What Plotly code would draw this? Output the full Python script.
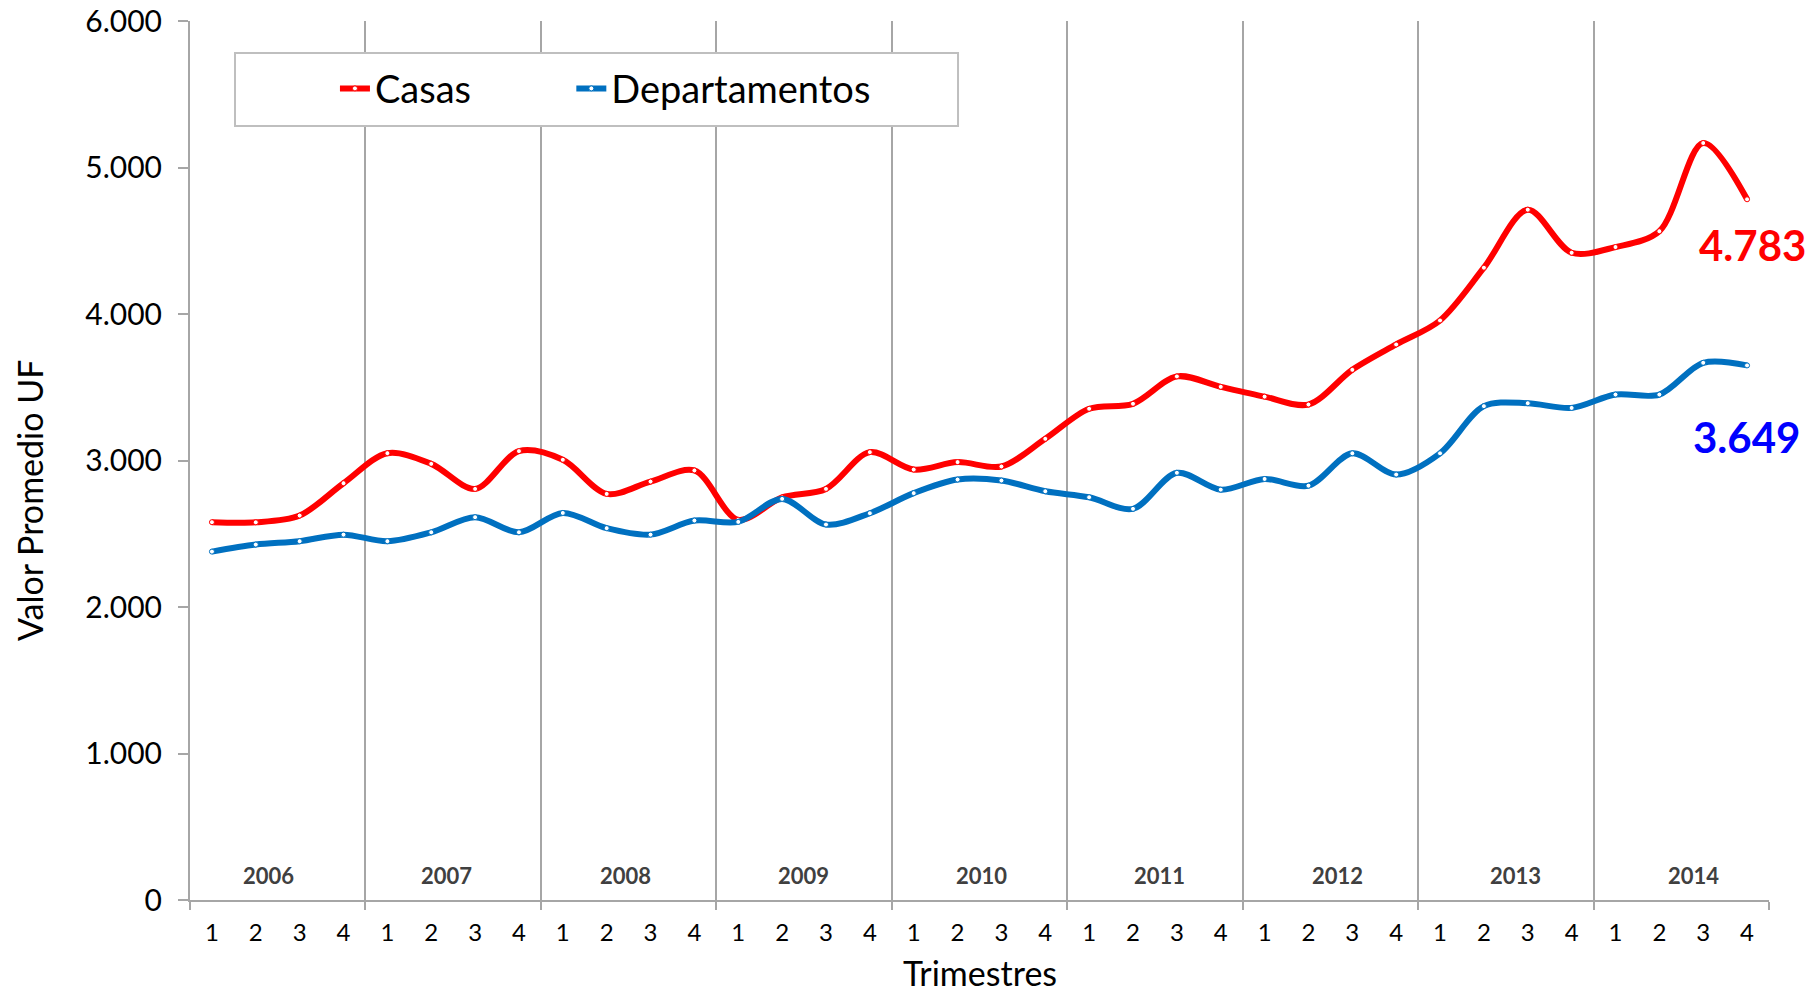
import plotly.graph_objects as go

years = ["2006", "2007", "2008", "2009", "2010", "2011", "2012", "2013", "2014"]
quarters = ["1", "2", "3", "4"]

casas = [2579, 2578, 2624, 2845,
         3050, 2977, 2806, 3064,
         3005, 2772, 2856, 2932,
         2595, 2748, 2806, 3057,
         2938, 2989, 2959, 3148,
         3353, 3387, 3574, 3503,
         3436, 3382, 3619, 3792,
         3956, 4316, 4712, 4418,
         4457, 4565, 5167, 4783]

departamentos = [2378, 2426, 2449, 2494,
                 2449, 2510, 2613, 2510,
                 2642, 2538, 2494, 2590,
                 2581, 2738, 2563, 2640,
                 2777, 2870, 2863, 2790,
                 2749, 2670, 2916, 2801,
                 2874, 2828, 3049, 2904,
                 3049, 3371, 3391, 3359,
                 3450, 3450, 3667, 3649]

y_ticks = [0, 1000, 2000, 3000, 4000, 5000, 6000]

FONT = "Lato"
GRAY = "#A6A6A6"
RED = "#FF0000"
BLUE = "#0070C0"

n = len(years) * len(quarters)
xs = list(range(n))
tick_text = [q for _ in years for q in quarters]
year_bounds = [i * len(quarters) - 0.5 for i in range(len(years) + 1)]

fig = go.Figure()
for name, vals, col, lg in [("Casas", casas, RED, "legend"),
                            ("Departamentos", departamentos, BLUE, "legend2")]:
    fig.add_trace(go.Scatter(
        x=xs, y=vals, name=name, mode="lines+markers", legend=lg,
        line=dict(color=col, width=6, shape="spline", smoothing=0.9),
        marker=dict(symbol="circle", size=5, color="white", line=dict(color=col, width=1)),
    ))

annotations = []
for i, yr in enumerate(years):
    annotations.append(dict(
        x=i * len(quarters) + 1.5, y=0, xref="x", yref="paper",
        text="<b>%s</b>" % yr, showarrow=False, yanchor="middle", yshift=25,
        xshift=-9 + 2.7 * i,
        font=dict(family=FONT, size=22, color="#404040"),
    ))

annotations.append(dict(
    x=xs[-1], y=casas[-1], xref="x", yref="y",
    text="<b>%s</b>" % f"{casas[-1]:,}".replace(",", "."),
    showarrow=False, xshift=5, yshift=-46,
    font=dict(family=FONT, size=42, color=RED),
))
annotations.append(dict(
    x=xs[-1], y=departamentos[-1], xref="x", yref="y",
    text="<b>%s</b>" % f"{departamentos[-1]:,}".replace(",", "."),
    showarrow=False, xshift=-1, yshift=-72,
    font=dict(family=FONT, size=42, color="#0000FF"),
))
# axis titles
annotations.append(dict(
    x=-0.102, y=0.455, xref="paper", yref="paper", xanchor="center", yanchor="middle",
    text="Valor Promedio UF", textangle=-90, showarrow=False,
    font=dict(family=FONT, size=34, color="black"),
))
annotations.append(dict(
    x=0.5, y=0, xref="paper", yref="paper", xanchor="center", yanchor="bottom",
    yshift=-94, borderpad=0, text="Trimestres", showarrow=False,
    font=dict(family=FONT, size=34, color="black"),
))

legend_common = dict(
    orientation="h", y=0.923, xanchor="left", yanchor="middle",
    bgcolor="rgba(0,0,0,0)", borderwidth=0,
    font=dict(family=FONT, size=38, color="black"),
)

fig.update_layout(
    width=1819, height=996,
    margin=dict(l=190, r=50, t=21, b=96, autoexpand=False),
    paper_bgcolor="white", plot_bgcolor="white",
    font=dict(family=FONT, color="black"),
    showlegend=True,
    legend=dict(x=0.0918, **legend_common),
    legend2=dict(x=0.2415, **legend_common),
    shapes=[dict(
        type="rect", xref="paper", yref="paper",
        x0=0.0285, x1=0.4864, y0=0.8805, y1=0.9636,
        line=dict(color="#BFBFBF", width=2), fillcolor="white", layer="above",
    )],
    annotations=annotations,
    xaxis=dict(
        range=[-0.5, n - 0.5], tickmode="array", tickvals=xs, ticktext=tick_text,
        ticks="", showgrid=False, zeroline=False, automargin=False,
        showline=True, linecolor=GRAY, linewidth=2,
        tickfont=dict(family=FONT, size=24, color="black"),
        ticklabelstandoff=10,
        minor=dict(tickmode="array", tickvals=year_bounds, ticks="outside", ticklen=8,
                   tickcolor=GRAY, tickwidth=1.5, showgrid=True, gridcolor=GRAY, gridwidth=1.5),
    ),
    yaxis=dict(
        range=[0, 6000], tickmode="array", tickvals=y_ticks, tickformat=",d",
        ticks="outside", ticklen=10, tickcolor=GRAY, tickwidth=1.5,
        showgrid=False, zeroline=False, automargin=False,
        showline=True, linecolor=GRAY, linewidth=2,
        tickfont=dict(family=FONT, size=30, color="black"),
        ticklabelstandoff=10,
    ),
    separators=",.",
)

fig.write_html("out.html", config={"displayModeBar": False},
               post_script="document.body.style.margin='0px';")
